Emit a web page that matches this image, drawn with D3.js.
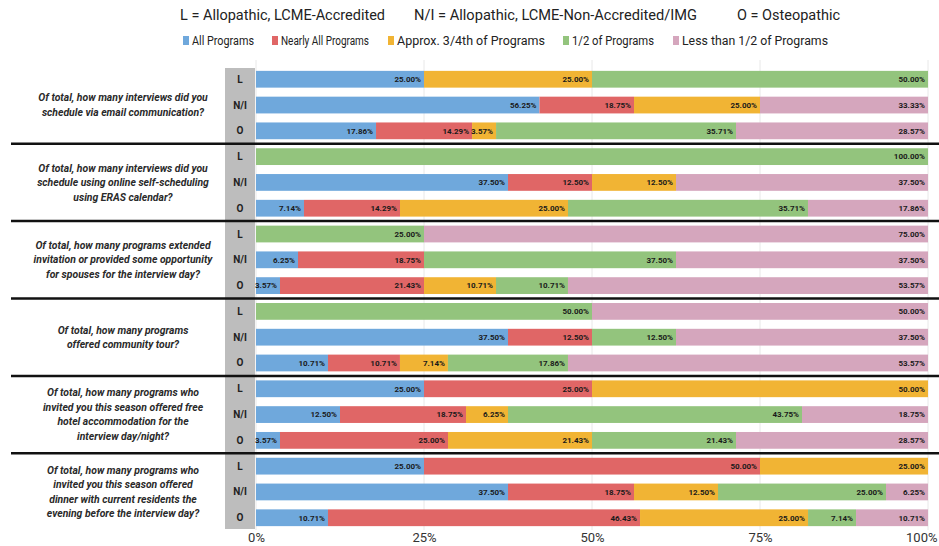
<!DOCTYPE html>
<html>
<head>
<meta charset="utf-8">
<script src="https://cdn.jsdelivr.net/npm/d3@7"></script>
<style>
  body { margin: 0; background: #fff; }
  svg { display: block; font-family: Roboto, "Noto Sans", sans-serif; }
</style>
</head>
<body>
<svg width="939" height="546"></svg>
<script>
const svg = d3.select("svg")
const width = +svg.attr("width")
const height = +svg.attr("height")

// answer categories (stack order, left to right)
const categories = ["All Programs", "Nearly All Programs", "Approx. 3/4th of Programs", "1/2 of Programs", "Less than 1/2 of Programs"]
const colors = ["#6fa8dc", "#e06666", "#f1b434", "#93c47d", "#d5a6bd"]

const schools = ["L", "N/I", "O"]
const schoolKey = ["L = Allopathic, LCME-Accredited", "N/I = Allopathic, LCME-Non-Accredited/IMG", "O = Osteopathic"]

const questions = [
    ["Of total, how many interviews did you", "schedule via email communication?"],
    ["Of total, how many interviews did you", "schedule using online self-scheduling", "using ERAS calendar?"],
    ["Of total, how many programs extended", "invitation or provided some opportunity", "for spouses for the interview day?"],
    ["Of total, how many programs", "offered community tour?"],
    ["Of total, how many programs who", "invited you this season offered free", "hotel accommodation for the", "interview day/night?"],
    ["Of total, how many programs who", "invited you this season offered", "dinner with current residents the", "evening before the interview day?"]
]

// one value per row: question 1 L, N/I, O, question 2 L, N/I, O, ...
const allPrograms   = [25, 56.25, 17.86,   0, 37.5, 7.14,    0, 6.25, 3.57,    0, 37.5, 10.71,   25, 12.5, 3.57,    25, 37.5, 10.71]
const nearlyAll     = [0, 18.75, 14.29,    0, 12.5, 14.29,   0, 18.75, 21.43,  0, 12.5, 10.71,   25, 18.75, 25,     50, 18.75, 46.43]
const threeFourths  = [25, 25, 3.57,       0, 12.5, 25,      0, 0, 10.71,      0, 0, 7.14,       50, 6.25, 21.43,   25, 12.5, 25]
const half          = [50, 0, 35.71,       100, 0, 35.71,    25, 37.5, 10.71,  50, 12.5, 17.86,  0, 43.75, 21.43,   0, 25, 7.14]
const lessThanHalf  = [0, 33.33, 28.57,    0, 37.5, 17.86,   75, 37.5, 53.57,  50, 37.5, 53.57,  0, 18.75, 28.57,   0, 6.25, 10.71]

const tickValues = [0, 0.25, 0.5, 0.75, 1]
const tickLabels = ["0%", "25%", "50%", "75%", "100%"]

const series = [allPrograms, nearlyAll, threeFourths, half, lessThanHalf]
const rows = d3.range(allPrograms.length).map(i => {
    const r = { i: i, q: Math.floor(i / 3), school: schools[i % 3] }
    categories.forEach((c, k) => r[c] = series[k][i])
    return r
})

const x = d3.scaleLinear().domain([0, 1]).range([256, 928])
const y = d3.scaleBand().domain(d3.range(rows.length)).range([67, 530]).paddingInner(0.35).paddingOuter(0.15)
const color = d3.scaleOrdinal().domain(categories).range(colors)

const stack = d3.stack().keys(categories).offset(d3.stackOffsetExpand)
const stacked = stack(rows)

// header key
const header = svg.append("g").attr("font-size", 14).attr("fill", "#222")
const headerX = [180, 414, 737]
schoolKey.forEach((t, i) => {
    header.append("text").attr("x", headerX[i]).attr("y", 20).text(t)
        .attr("textLength", [205, 283, 103][i]).attr("lengthAdjust", "spacingAndGlyphs")
})

// legend
const legendX = [183, 272, 388, 563, 673]
const legendW = [71, 97, 157, 91, 155]
const legend = svg.append("g").attr("font-size", 12).attr("fill", "#222")
categories.forEach((c, i) => {
    legend.append("rect").attr("x", legendX[i]).attr("y", 36).attr("width", 6).attr("height", 9).attr("fill", color(c))
    legend.append("text").attr("x", legendX[i] + 9).attr("y", 45).text(c)
        .attr("textLength", legendW[i] - 9).attr("lengthAdjust", "spacingAndGlyphs")
})

// gridlines
svg.append("g").selectAll("line")
    .data(tickValues)
    .join("line")
    .attr("x1", d => x(d)).attr("x2", d => x(d))
    .attr("y1", 60).attr("y2", 530)
    .attr("stroke", "#e8e8e8")

// grey label column
svg.append("rect").attr("x", 225).attr("y", 68).attr("width", 30).attr("height", 461).attr("fill", "#bdbdbd")

svg.append("g").attr("font-size", 10).attr("font-weight", 700).attr("fill", "#222").attr("text-anchor", "middle")
    .selectAll("text")
    .data(rows)
    .join("text")
    .attr("x", 240)
    .attr("y", d => y(d.i) + y.bandwidth() / 2)
    .attr("dy", "0.35em")
    .text(d => d.school)

// bars
const layers = svg.append("g").selectAll("g")
    .data(stacked)
    .join("g")
    .attr("fill", d => color(d.key))

layers.selectAll("rect")
    .data(d => d)
    .join("rect")
    .attr("x", d => x(d[0]))
    .attr("y", (d, i) => y(i))
    .attr("width", d => x(d[1]) - x(d[0]))
    .attr("height", y.bandwidth())

// value labels
layers.each(function (layer) {
    d3.select(this).selectAll("text")
        .data(layer.filter(d => d.data[layer.key] > 0))
        .join("text")
        .attr("x", d => x(d[1]) - 3)
        .attr("y", d => y(d.data.i) + y.bandwidth() / 2)
        .attr("dy", "0.35em")
        .attr("text-anchor", "end")
        .attr("font-size", 8)
        .attr("font-weight", 700)
        .attr("fill", "#1a1a1a")
        .text(d => d.data[layer.key].toFixed(2) + "%")
})

// question text, one block per group
const qText = svg.append("g").attr("font-size", 10.4).attr("font-style", "italic").attr("font-weight", 700)
    .attr("fill", "#2a2a2a").attr("text-anchor", "middle")
questions.forEach((lines, q) => {
    const top = y(q * 3)
    const bottom = y(q * 3 + 2) + y.bandwidth()
    const mid = (top + bottom) / 2
    const lh = 14.5
    lines.forEach((l, j) => {
        qText.append("text")
            .attr("x", 123)
            .attr("y", mid + (j - (lines.length - 1) / 2) * lh)
            .attr("dy", "0.35em")
            .text(l)
    })
})

// group separators
d3.range(1, questions.length).forEach(q => {
    const yy = (y(q * 3 - 1) + y.bandwidth() + y(q * 3)) / 2
    svg.append("line").attr("x1", 11).attr("x2", width).attr("y1", yy).attr("y2", yy)
        .attr("stroke", "#111").attr("stroke-width", 2.5)
})

// x axis
const axis = svg.append("g")
    .attr("transform", "translate(0,529)")
    .call(d3.axisBottom(x).tickValues(tickValues).tickSize(0).tickPadding(4).tickFormat((d, i) => tickLabels[i]))
axis.select(".domain").remove()
axis.selectAll("text").attr("font-size", 13).attr("fill", "#333").attr("font-family", "Roboto, sans-serif")
axis.selectAll(".tick:last-of-type text").attr("text-anchor", "end").attr("dx", 9)
</script>
</body>
</html>
